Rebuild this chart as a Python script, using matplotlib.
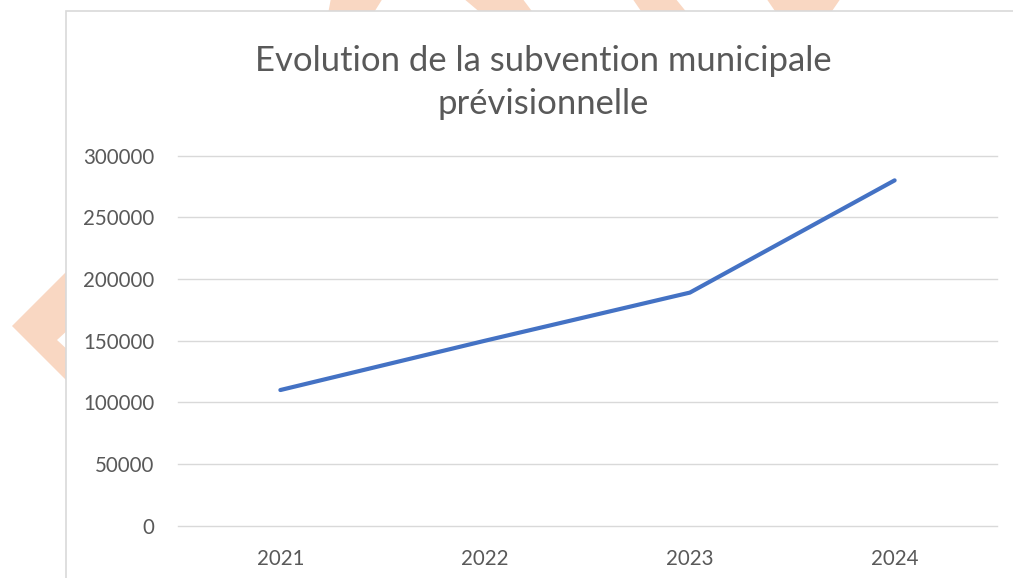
import matplotlib
matplotlib.use("Agg")
import matplotlib.pyplot as plt
from matplotlib.patches import Polygon, Rectangle

years = ["2021", "2022", "2023", "2024"]
subvention = [110000, 150000, 189000, 280000]
y_ticks = [0, 50000, 100000, 150000, 200000, 250000, 300000]

W, H = 1013, 578
fig = plt.figure(figsize=(W / 100, H / 100), dpi=100)

# background layer in pixel coordinates (document decoration + chart frame)
bg = fig.add_axes([0, 0, 1, 1], zorder=0)
bg.set_xlim(0, W)
bg.set_ylim(H, 0)
bg.axis("off")
peach = "#F9D7C2"
bands = [
    [(331, -2), (383, -2), (373, 14), (328, 14)],
    [(463, -2), (522, -2), (534, 14), (482, 14)],
    [(632, -2), (675, -2), (688, 14), (643, 14)],
    [(766, -2), (841, -2), (830, 14), (777, 14)],
]
for b in bands:
    bg.add_patch(Polygon(b, closed=True, color=peach, lw=0))
bg.add_patch(Polygon([(70, 268), (12, 326), (70, 384), (70, 352),
                      (57, 340), (70, 328)], closed=True, color=peach,
                     lw=0, joinstyle="round"))
bg.add_patch(Rectangle((66, 11), 1000, 600, facecolor="white",
                       edgecolor="#D9D9D9", lw=1.2))

ax = fig.add_axes([178 / W, 1 - 525.7 / H, (997 - 178) / W, (525.7 - 155.7) / H],
                  zorder=1)
ax.patch.set_alpha(0)
x = range(len(years))
ax.plot(x, subvention, color="#4472C4", lw=3.0, solid_capstyle="round",
        solid_joinstyle="round", zorder=3)
ax.set_xlim(-0.5, len(years) - 0.5)
ax.set_ylim(0, 300000)
ax.set_yticks(y_ticks)
ax.set_yticklabels([str(v) for v in y_ticks])
ax.set_xticks(list(x))
ax.set_xticklabels(years)
ax.grid(axis="y", color="#D9D9D9", lw=1.0)
for gl in ax.get_ygridlines():
    gl.set_clip_on(False)
ax.set_axisbelow(True)
for s in ax.spines.values():
    s.set_visible(False)
ax.tick_params(length=0, labelsize=14.8, labelcolor="#595959")
ax.tick_params(axis="y", pad=17)
ax.tick_params(axis="x", pad=17)
for t in ax.get_xticklabels() + ax.get_yticklabels():
    t.set_fontfamily("Lato")

fig.text(543 / W, 1 - 82.5 / H, "Evolution de la subvention municipale\nprévisionnelle",
         ha="center", va="center", fontsize=24.9, color="#595959",
         family="Lato", linespacing=1.45)

fig.savefig("out.png", dpi=100)
